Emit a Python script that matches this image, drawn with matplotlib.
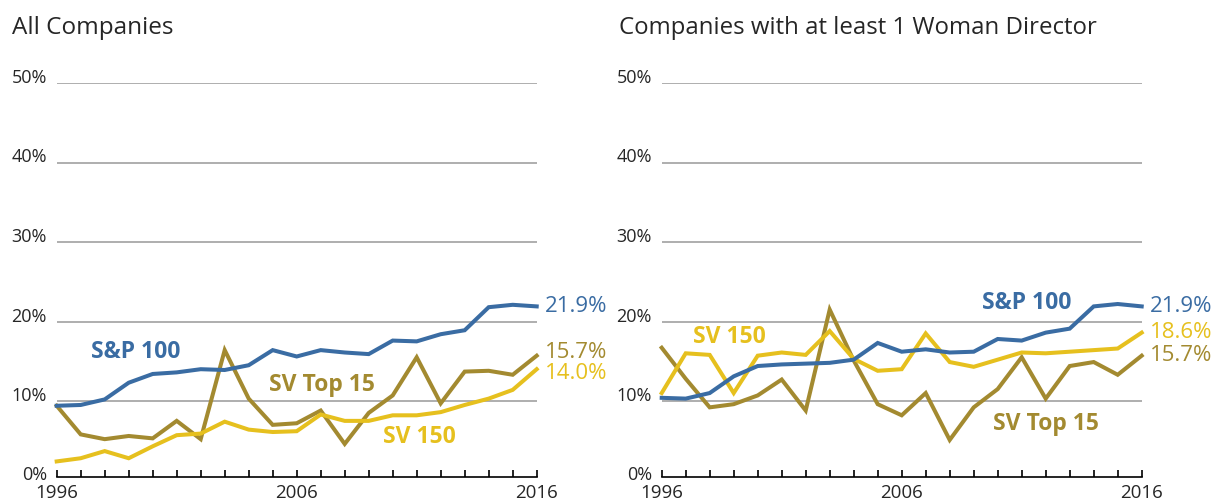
import matplotlib
matplotlib.use("Agg")
import matplotlib.pyplot as plt
from matplotlib.ticker import FixedLocator

plt.rcParams['font.family'] = ['Open Sans', 'DejaVu Sans']

years = list(range(1996, 2017))

# All Companies
all_sp100 = [9.4, 9.5, 10.2, 12.3, 13.4, 13.6, 14.0, 13.9, 14.5, 16.4, 15.6,
             16.4, 16.1, 15.9, 17.6, 17.5, 18.4, 18.9, 21.8, 22.1, 21.9]
all_svtop15 = [9.4, 5.8, 5.2, 5.6, 5.3, 7.5, 5.2, 16.4, 10.3, 7.0, 7.2,
               8.8, 4.6, 8.5, 10.7, 15.5, 9.7, 13.7, 13.8, 13.3, 15.7]
all_sv150 = [2.4, 2.8, 3.7, 2.8, 4.3, 5.7, 5.9, 7.4, 6.4, 6.1, 6.2,
             8.3, 7.5, 7.5, 8.2, 8.2, 8.6, 9.5, 10.3, 11.4, 14.0]

# Companies with at least 1 woman director
wd_sp100 = [10.4, 10.3, 11.0, 13.1, 14.4, 14.6, 14.7, 14.8, 15.2, 17.3, 16.2,
            16.5, 16.1, 16.2, 17.8, 17.6, 18.6, 19.1, 21.9, 22.2, 21.9]
wd_sv150 = [11.0, 16.0, 15.8, 11.0, 15.7, 16.1, 15.8, 18.8, 15.3, 13.8, 14.0,
            18.5, 14.9, 14.3, 15.2, 16.1, 16.0, 16.2, 16.4, 16.6, 18.6]
wd_svtop15 = [16.7, 12.8, 9.2, 9.6, 10.7, 12.7, 8.8, 21.5, 15.1, 9.6, 8.2,
              11.0, 5.1, 9.2, 11.5, 15.5, 10.3, 14.4, 14.9, 13.3, 15.7]

titles = ["All Companies", "Companies with at least 1 Woman Director"]
series_names = ["S&P 100", "SV Top 15", "SV 150"]
ytick_vals = [0, 10, 20, 30, 40, 50]
ytick_labels = ["0%", "10%", "20%", "30%", "40%", "50%"]
xlabel_years = [1996, 2006, 2016]

BLUE = "#3a6ca3"
OLIVE = "#a38a30"
YELLOW = "#e6c01e"
GRID = "#a8a8a8"
TXT = "#262626"

W, H = 1220, 503
fig = plt.figure(figsize=(W / 100, H / 100), dpi=100)

def frac_x(px):
    return px / W

bottom = (H - 480.5) / H
height = (480.5 - 83.0) / H
ax_width = 480 / W

axes = [fig.add_axes([frac_x(56.7), bottom, ax_width, height]),
        fig.add_axes([frac_x(661.7), bottom, ax_width, height])]

panels = [
    {"data": {"S&P 100": all_sp100, "SV Top 15": all_svtop15, "SV 150": all_sv150},
     "order": ["SV Top 15", "SV 150", "S&P 100"],
     "labels": {"S&P 100": (1999.3, 16.2), "SV Top 15": (2007.05, 12.0), "SV 150": (2011.1, 5.5)},
     "end_offsets": {"S&P 100": 0, "SV Top 15": 3, "SV 150": -4}},
    {"data": {"S&P 100": wd_sp100, "SV Top 15": wd_svtop15, "SV 150": wd_sv150},
     "order": ["SV Top 15", "SV 150", "S&P 100"],
     "labels": {"S&P 100": (2011.2, 22.3), "SV Top 15": (2012.0, 7.1), "SV 150": (1998.8, 18.05)},
     "end_offsets": {"S&P 100": 0, "SV Top 15": 0, "SV 150": 0}},
]
colors = {"S&P 100": BLUE, "SV Top 15": OLIVE, "SV 150": YELLOW}

for ax, panel, title in zip(axes, panels, titles):
    ax.set_xlim(1996, 2016)
    ax.set_ylim(0, 50)
    for v in ytick_vals[1:]:
        ax.axhline(v, color=GRID, lw=1.3, zorder=1)
    for name in panel["order"]:
        ax.plot(years, panel["data"][name], color=colors[name], lw=2.9,
                solid_joinstyle='miter', zorder=3, clip_on=False)
    # end labels
    for name in series_names:
        vals = panel["data"][name]
        ax.annotate(f"{vals[-1]:.1f}%", xy=(years[-1], vals[-1]),
                    xytext=(6, panel["end_offsets"][name] * 0.72), textcoords='offset points',
                    color=colors[name], fontsize=16, ha='left', va='center',
                    annotation_clip=False)
    # series labels
    for name, (lx, ly) in panel["labels"].items():
        ax.text(lx, ly, name, color=colors[name], fontsize=16.5, fontweight='bold',
                ha='center', va='center')
    for s in ["top", "right", "left"]:
        ax.spines[s].set_visible(False)
    ax.spines["bottom"].set_color("black")
    ax.spines["bottom"].set_linewidth(1.2)
    ax.spines["bottom"].set_position(('data', 0.4))
    ax.xaxis.set_major_locator(FixedLocator(years))
    ax.set_xticklabels([str(y) if y in xlabel_years else "" for y in years])
    ax.tick_params(axis='x', direction='in', length=5, width=1.2, color='black',
                   labelsize=13.5, labelcolor=TXT, pad=4.5)
    ax.set_yticks(ytick_vals)
    ax.set_yticklabels(ytick_labels)
    ax.tick_params(axis='y', length=0, labelsize=13, labelcolor=TXT, pad=7)
    for lab in ax.get_yticklabels():
        lab.set_verticalalignment('baseline')
    ax.patch.set_visible(False)

fig.text(frac_x(12), (H - 33.5) / H, titles[0], fontsize=17.5, color=TXT,
         ha='left', va='baseline')
fig.text(frac_x(619), (H - 33.5) / H, titles[1], fontsize=17.3, color=TXT,
         ha='left', va='baseline')

fig.savefig("out.png", dpi=100)
